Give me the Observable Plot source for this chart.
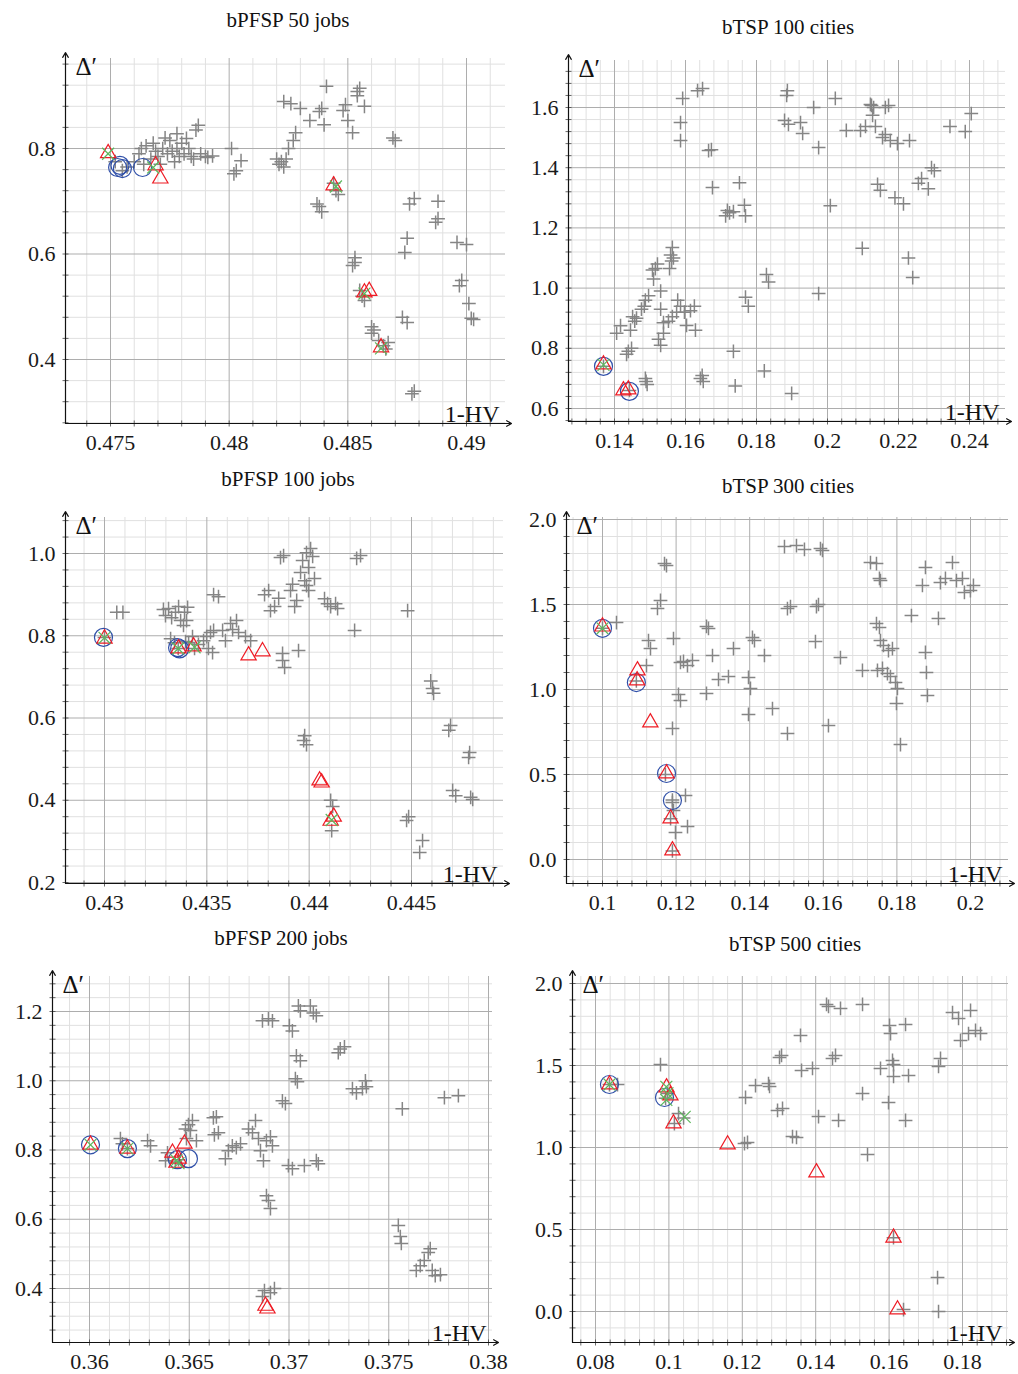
<!DOCTYPE html>
<html><head><meta charset="utf-8">
<script src="https://cdn.jsdelivr.net/npm/d3@7"></script>
<script src="https://cdn.jsdelivr.net/npm/@observablehq/plot@0.6"></script>
<style>
html,body{margin:0;padding:0;background:#fff;}
body{width:1018px;height:1374px;position:relative;overflow:hidden;font-family:"Liberation Serif",serif;}
.panel{position:absolute;}
.panel svg, .panel svg text{font-family:"Liberation Serif",serif !important;}
.title{position:absolute;font-size:21px;color:#111;transform:translate(-50%,-50%);white-space:nowrap;}
</style></head><body>
<script>
// ---------------- Titles ----------------
const titles = ["bPFSP 50 jobs","bTSP 100 cities","bPFSP 100 jobs","bTSP 300 cities","bPFSP 200 jobs","bTSP 500 cities"];

// ---------------- Tick labels ----------------
const p1XTicks = [0.475,0.48,0.485,0.49];
const p1YTicks = [0.4,0.6,0.8];
const p2XTicks = [0.14,0.16,0.18,0.2,0.22,0.24];
const p2YTicks = [0.6,0.8,1.0,1.2,1.4,1.6];
const p3XTicks = [0.43,0.435,0.44,0.445];
const p3YTicks = [0.2,0.4,0.6,0.8,1.0];
const p4XTicks = [0.1,0.12,0.14,0.16,0.18,0.2];
const p4YTicks = [0.0,0.5,1.0,1.5,2.0];
const p5XTicks = [0.36,0.365,0.37,0.375,0.38];
const p5YTicks = [0.4,0.6,0.8,1.0,1.2];
const p6XTicks = [0.08,0.1,0.12,0.14,0.16,0.18];
const p6YTicks = [0.0,0.5,1.0,1.5,2.0];

// ---------------- bPFSP 50 jobs ----------------
const p1Gray = [[0.4752,0.775],[0.4755,0.758],[0.4757,0.765],[0.4760,0.775],[0.4762,0.79],[0.4763,0.80],[0.4765,0.805],[0.4764,0.77],[0.4767,0.78],[0.4768,0.81],[0.4769,0.795],[0.4770,0.785],[0.4771,0.77],[0.4772,0.80],[0.4773,0.82],[0.4774,0.79],[0.4775,0.815],[0.4776,0.795],[0.4777,0.775],[0.4778,0.828],[0.4778,0.80],[0.4779,0.785],[0.4780,0.81],[0.4781,0.79],[0.4782,0.819],[0.4783,0.80],[0.4784,0.785],[0.4785,0.78],[0.4786,0.835],[0.4787,0.844],[0.4788,0.79],[0.4790,0.785],[0.4791,0.783],[0.4793,0.786],
[0.4801,0.80],[0.4805,0.777],[0.4803,0.758],[0.4802,0.752],
[0.4820,0.78],[0.4821,0.77],[0.4822,0.775],[0.4823,0.765],[0.4824,0.78],
[0.4823,0.889],[0.4826,0.885],[0.4830,0.876],[0.4834,0.853],[0.4827,0.815],[0.4825,0.80],[0.4828,0.83],
[0.4841,0.918],[0.4839,0.876],[0.4838,0.87],[0.4840,0.845],[0.4848,0.872],[0.4849,0.883],[0.4850,0.853],[0.4852,0.83],[0.4854,0.90],[0.4855,0.914],[0.4854,0.908],[0.4857,0.88],[0.4869,0.82],[0.4870,0.815],
[0.4837,0.695],[0.4838,0.69],[0.4839,0.68],
[0.4844,0.734],[0.4845,0.72],[0.4846,0.713],
[0.4853,0.593],[0.4853,0.584],[0.4852,0.578],
[0.4855,0.531],[0.4856,0.52],[0.4857,0.512],
[0.4860,0.462],[0.4860,0.45],[0.4861,0.456],
[0.4863,0.436],[0.4865,0.426],[0.4866,0.42],[0.4867,0.432],
[0.4873,0.48],[0.4875,0.47],[0.4876,0.695],[0.4878,0.705],[0.4875,0.63],[0.4874,0.603],
[0.4877,0.335],[0.4878,0.34],
[0.4888,0.70],[0.4888,0.667],[0.4887,0.66],
[0.4896,0.622],[0.4900,0.618],[0.4898,0.55],[0.4897,0.54],[0.4901,0.506],[0.4902,0.478],[0.4903,0.476]];
const p1Red = [[0.4749,0.791],[0.4769,0.768],[0.4771,0.743],[0.4844,0.73],[0.4857,0.527],[0.4859,0.53],[0.4864,0.423]];
const p1Blue = [[0.4753,0.764],[0.4755,0.762],[0.4754,0.768],[0.47635,0.764]];
const p1Green = [[0.4749,0.79],[0.4768,0.764],[0.4845,0.728],[0.4857,0.525],[0.4864,0.421]];

// ---------------- bTSP 100 cities ----------------
const p2Gray = [[0.1489,0.69],[0.1492,0.68],[0.1487,0.70],
[0.1448,0.80],[0.1439,0.79],[0.1434,0.78],
[0.1445,0.86],[0.1462,0.90],[0.1457,0.89],[0.1451,0.905],[0.1406,0.85],[0.1417,0.875],
[0.1487,0.96],[0.1496,0.975],[0.1476,0.93],[0.1484,0.94],
[0.1530,0.99],[0.1510,1.03],[0.1515,1.065],[0.1521,1.08],[0.1507,1.06],
[0.1558,1.11],[0.1563,1.135],[0.1561,1.09],[0.1555,1.065],[0.1566,1.10],
[0.1530,0.93],[0.1538,0.885],[0.1552,0.89],[0.1563,0.905],[0.1575,0.92],[0.1586,0.94],[0.1597,0.92],[0.1614,0.925],[0.1625,0.94],[0.1603,0.876],[0.1628,0.86],[0.1578,0.96],
[0.1524,0.83],[0.1538,0.85],[0.1530,0.81],
[0.1586,1.49],[0.1586,1.55],[0.1592,1.63],[0.1634,1.656],[0.1648,1.663],
[0.1665,1.457],[0.1673,1.46],[0.1676,1.334],
[0.1713,1.24],[0.1718,1.258],[0.1724,1.25],[0.1735,1.254],
[0.1752,1.35],[0.1766,1.275],[0.1769,1.24],
[0.1769,0.97],[0.1777,0.94],
[0.1735,0.79],[0.1740,0.675],
[0.1828,1.045],[0.1834,1.02],[0.1822,0.725],
[0.1642,0.70],[0.1650,0.69],[0.1647,0.71],
[0.1885,1.64],[0.1887,1.656],[0.1879,1.557],[0.1890,1.544],
[0.1899,0.65],[0.1924,1.55],[0.1930,1.514],[0.1961,1.60],[0.1975,1.467],[0.1975,0.982],
[0.2022,1.63],[0.2008,1.274],[0.2053,1.524],[0.2093,1.524],[0.2107,1.537],[0.2098,1.132],
[0.2124,1.607],[0.2127,1.574],[0.2135,1.537],[0.2121,1.61],[0.2130,1.60],
[0.2149,1.325],[0.2141,1.345],
[0.2155,1.50],[0.2163,1.51],[0.2172,1.607],[0.2163,1.60],
[0.2190,1.30],[0.2177,1.49],[0.2197,1.48],[0.2214,1.28],
[0.2231,1.49],[0.2228,1.10],[0.2240,1.035],
[0.2256,1.348],[0.2265,1.364],[0.2284,1.33],[0.2293,1.40],[0.2301,1.39],
[0.2345,1.537],[0.2388,1.52],[0.2405,1.58],
[0.1369,0.74],[0.1442,0.66]];
const p2Red = [[0.1369,0.746],[0.1425,0.66],[0.1439,0.663]];
const p2Blue = [[0.1369,0.74],[0.1442,0.657]];
const p2Green = [[0.1369,0.745]];

// ---------------- bPFSP 100 jobs ----------------
const p3Gray = [[0.4306,0.857],[0.4309,0.857],
[0.43288,0.864],[0.43298,0.849],[0.43313,0.866],[0.43328,0.844],[0.43347,0.857],[0.43362,0.871],[0.43372,0.837],[0.43391,0.857],[0.43406,0.869],[0.43386,0.825],[0.43401,0.837],
[0.43323,0.793],[0.43342,0.783],[0.43396,0.786],[0.43411,0.783],[0.4343,0.798],[0.43459,0.779],[0.43484,0.788],[0.43499,0.798],[0.43518,0.808],[0.43533,0.813],[0.43528,0.759],[0.43508,0.769],
[0.43533,0.90],[0.43557,0.895],[0.43577,0.813],[0.43591,0.788],[0.43616,0.83],[0.43626,0.815],[0.43645,0.837],[0.43655,0.808],[0.43689,0.798],[0.43714,0.788],
[0.43782,0.90],[0.43802,0.91],[0.43811,0.861],[0.43831,0.871],[0.43851,0.891],
[0.4387,0.74],[0.4388,0.723],[0.4387,0.757],
[0.43909,0.91],[0.43919,0.925],[0.43939,0.886],[0.43929,0.871],[0.43948,0.764],
[0.43958,0.954],[0.43978,0.934],[0.43968,0.983],[0.43987,1.002],[0.44007,1.012],[0.44017,0.993],[0.43997,0.966],[0.43987,0.922],[0.43997,0.91],[0.44026,0.939],
[0.4386,0.99],[0.43875,0.995],
[0.44075,0.89],[0.4409,0.878],[0.44105,0.871],[0.44129,0.878],[0.44139,0.866],
[0.44232,0.988],[0.44251,0.995],[0.44222,0.813],
[0.43978,0.557],[0.43973,0.545],[0.43987,0.535],
[0.44105,0.40],[0.44115,0.385],[0.4411,0.326],
[0.44481,0.861],[0.44594,0.69],[0.44603,0.672],[0.44608,0.66],
[0.44691,0.582],[0.44682,0.57],[0.44784,0.516],[0.44779,0.504],
[0.44701,0.424],[0.44716,0.411],[0.44789,0.407],[0.44799,0.402],
[0.44486,0.36],[0.44476,0.351],[0.44554,0.302],[0.4454,0.273],
[0.43,0.796],[0.4336,0.769],[0.4344,0.769]];
const p3Red = [[0.43,0.793],[0.43362,0.769],[0.43435,0.774],[0.43704,0.752],[0.43772,0.762],[0.44051,0.448],[0.44061,0.443],[0.44105,0.35],[0.4412,0.36]];
const p3Blue = [[0.42995,0.796],[0.43357,0.771],[0.43367,0.768]];
const p3Green = [[0.43,0.795],[0.4336,0.769],[0.4344,0.772],[0.4411,0.352]];

// ---------------- bTSP 300 cities ----------------
const p4Gray = [[0.1038,1.394],[0.12255,0.377],[0.1231,0.194],[0.11983,0.159],[0.11929,0.288],[0.11902,0.771],
[0.11576,1.524],[0.11494,1.477],[0.11685,1.741],[0.11739,1.729],[0.11304,1.241],[0.1125,1.288],[0.11195,1.141],
[0.12065,0.971],[0.12119,0.935],[0.12119,1.159],[0.12201,1.165],[0.12445,1.171],[0.12309,1.141],[0.11929,1.30],
[0.12826,1.371],[0.1288,1.359],[0.12989,1.20],[0.12826,0.977],[0.13152,1.059],[0.13423,1.076],[0.13559,1.241],
[0.14075,1.306],[0.1413,1.288],[0.14021,1.006],[0.13967,1.071],[0.13967,0.853],[0.14401,1.20],[0.14619,0.888],[0.15026,0.741],
[0.14945,1.841],[0.15271,1.847],[0.15488,1.824],[0.15026,1.476],[0.15108,1.488],[0.15923,1.829],[0.15977,1.818],
[0.15814,1.488],[0.15869,1.50],[0.15787,1.282],[0.1614,0.788],[0.16466,1.188],[0.17064,1.112],
[0.17282,1.747],[0.17445,1.741],[0.17526,1.653],[0.17553,1.641],[0.17445,1.388],[0.17526,1.365],
[0.17553,1.288],[0.17635,1.259],[0.17771,1.229],[0.17879,1.241],[0.17472,1.112],[0.17608,1.124],[0.17743,1.094],[0.17825,1.076],
[0.17988,0.918],[0.17961,1.041],[0.18015,1.006],[0.18097,0.676],
[0.18694,1.612],[0.18776,1.718],[0.18776,1.218],[0.18803,1.10],[0.1883,0.965],[0.19129,1.418],
[0.19183,1.629],[0.19319,1.653],[0.1951,1.747],[0.19618,1.641],[0.19781,1.653],[0.19835,1.571],[0.19998,1.582],[0.2008,1.612],[0.18395,1.435],
[0.1,1.36],[0.1092,1.05],[0.119,0.35],[0.119,0.335],[0.1185,0.24],[0.119,0.05],[0.1171,0.5]];
const p4Red = [[0.1,1.37],[0.1095,1.112],[0.1094,1.053],[0.113,0.806],[0.1174,0.506],[0.1185,0.241],[0.119,0.053]];
const p4Blue = [[0.1,1.36],[0.1092,1.041],[0.1174,0.506],[0.119,0.347]];
const p4Green = [[0.1,1.36]];

// ---------------- bPFSP 200 jobs ----------------
const p5Gray = [[0.36155,0.833],[0.36165,0.818],[0.36291,0.827],[0.36306,0.812],[0.36391,0.792],[0.36381,0.769],
[0.36481,0.861],[0.36496,0.873],[0.36506,0.856],[0.36516,0.885],[0.36486,0.833],[0.36536,0.827],
[0.36621,0.893],[0.36636,0.896],[0.36626,0.844],[0.36646,0.85],
[0.36681,0.775],[0.36696,0.798],[0.36716,0.812],[0.36736,0.807],[0.36757,0.818],
[0.36797,0.861],[0.36817,0.85],[0.36832,0.885],[0.36847,0.833],[0.36857,0.798],[0.36872,0.769],[0.36887,0.827],[0.36907,0.838],[0.36917,0.812],
[0.36867,1.173],[0.36897,1.179],[0.36917,1.173],
[0.36887,0.668],[0.36907,0.631],[0.36897,0.654],
[0.36877,0.394],[0.36907,0.388],[0.36927,0.40],[0.36867,0.377],
[0.36967,0.942],[0.36982,0.934],[0.37002,1.159],[0.37017,1.144],[0.37037,1.072],[0.37057,1.058],[0.37032,1.006],[0.37042,0.997],
[0.36997,0.755],[0.37017,0.746],[0.37077,0.755],[0.37137,0.769],[0.37147,0.76],
[0.37047,1.216],[0.37057,1.202],[0.37107,1.216],[0.37122,1.196],[0.37137,1.188],
[0.37247,1.081],[0.37257,1.092],[0.37278,1.098],
[0.37318,0.977],[0.37338,0.965],[0.37368,0.977],[0.37383,1.0],[0.37388,0.983],
[0.37568,0.919],[0.37548,0.582],[0.37558,0.55],[0.37563,0.53],
[0.37638,0.452],[0.37658,0.466],[0.37678,0.481],[0.37698,0.504],[0.37708,0.515],[0.37718,0.452],[0.37733,0.437],[0.37759,0.44],
[0.37779,0.951],[0.37849,0.957],
[0.3619,0.804],[0.36446,0.772],[0.3643,0.765]];
const p5Red = [[0.36005,0.815],[0.3619,0.804],[0.36416,0.792],[0.36446,0.775],[0.36476,0.818],[0.36436,0.763],[0.36882,0.35],[0.36892,0.342]];
const p5Blue = [[0.36005,0.815],[0.3619,0.804],[0.36441,0.772],[0.36496,0.775]];
const p5Green = [[0.36005,0.815],[0.3619,0.804],[0.36446,0.762],[0.36436,0.77]];

// ---------------- bTSP 500 cities ----------------
const p6Gray = [[0.09771,1.506],[0.10262,1.207],[0.086,1.384],[0.12088,1.305],[0.1206,1.024],[0.12142,1.031],
[0.1236,1.378],[0.12714,1.39],[0.12742,1.372],[0.1296,1.226],[0.13096,1.238],[0.13014,1.549],[0.13069,1.561],
[0.13368,1.067],[0.13477,1.061],[0.13586,1.683],[0.13614,1.47],[0.13913,1.482],[0.14077,1.189],
[0.14295,1.872],[0.14349,1.86],[0.14458,1.543],[0.1454,1.561],[0.14622,1.165],[0.14676,1.848],
[0.15276,1.872],[0.15276,1.329],[0.15412,0.957],[0.15766,1.482],
[0.16012,1.744],[0.16039,1.695],[0.16093,1.531],[0.16121,1.506],[0.15984,1.274],[0.16121,1.433],
[0.16448,1.75],[0.16448,1.165],[0.16529,1.439],[0.17401,1.543],[0.17347,1.494],
[0.1732,0.207],[0.17347,0.0],[0.16393,0.012],
[0.17728,1.823],[0.17892,1.787],[0.17946,1.653],[0.18219,1.836],[0.18164,1.695],[0.18355,1.714],[0.18491,1.695],
[0.0991,1.30],[0.0996,1.33],[0.0838,1.384],[0.104,1.18],[0.1015,1.146],[0.1612,0.45]];
const p6Red = [[0.0838,1.384],[0.09935,1.366],[0.1004,1.317],[0.10126,1.146],[0.116,1.018],[0.1402,0.848],[0.1612,0.45],[0.1623,0.012]];
const p6Blue = [[0.0838,1.384],[0.0988,1.305]];
const p6Green = [[0.0838,1.384],[0.0993,1.37],[0.0996,1.33],[0.0993,1.29],[0.1043,1.187]];

// ---------------- Layout (pixel frame + calibration) ----------------
const panels = [
  {title:titles[0], tc:[288,20], gray:p1Gray, red:p1Red, blue:p1Blue, green:p1Green, xTicks:p1XTicks, yTicks:p1YTicks, xMinor:0.001, yMinor:0.04, fx:[65,505], fy:[58,423], xcal:[110,0.475,466,0.49], ycal:[148,0.8,359,0.4]},
  {title:titles[1], tc:[788,27], gray:p2Gray, red:p2Red, blue:p2Blue, green:p2Green, xTicks:p2XTicks, yTicks:p2YTicks, xMinor:0.004, yMinor:0.04, fx:[568,1005], fy:[60,421], xcal:[614,0.14,969,0.24], ycal:[107,1.6,408,0.6]},
  {title:titles[2], tc:[288,479], gray:p3Gray, red:p3Red, blue:p3Blue, green:p3Green, xTicks:p3XTicks, yTicks:p3YTicks, xMinor:0.001, yMinor:0.04, fx:[65,503], fy:[517,883], xcal:[104,0.43,411,0.445], ycal:[553,1.0,882,0.2]},
  {title:titles[3], tc:[788,486], gray:p4Gray, red:p4Red, blue:p4Blue, green:p4Green, xTicks:p4XTicks, yTicks:p4YTicks, xMinor:0.004, yMinor:0.1, fx:[566,1008], fy:[517,883], xcal:[602,0.1,970,0.2], ycal:[519,2.0,859,0.0]},
  {title:titles[4], tc:[281,938], gray:p5Gray, red:p5Red, blue:p5Blue, green:p5Green, xTicks:p5XTicks, yTicks:p5YTicks, xMinor:0.001, yMinor:0.04, fx:[52,492], fy:[976,1342], xcal:[89,0.36,488,0.38], ycal:[1011,1.2,1288,0.4]},
  {title:titles[5], tc:[795,944], gray:p6Gray, red:p6Red, blue:p6Blue, green:p6Green, xTicks:p6XTicks, yTicks:p6YTicks, xMinor:0.004, yMinor:0.1, fx:[572,1008], fy:[976,1342], xcal:[595,0.08,962,0.18], ycal:[983,2.0,1311,0.0]}
];

const mL = 52, mR = 10, mT = 10, mB = 32;
const lin = (p0, v0, p1, v1) => p => v0 + (p - p0) * (v1 - v0) / (p1 - p0);
const vTick = {draw(ctx){ ctx.moveTo(0,-3); ctx.lineTo(0,3); }};
const hTick = {draw(ctx){ ctx.moveTo(-3,0); ctx.lineTo(3,0); }};
function minorTicks(dom, step, majors){
  const lo = Math.min(...dom), hi = Math.max(...dom);
  const k0 = Math.ceil(lo/step - 1e-6), k1 = Math.floor(hi/step + 1e-6);
  return d3.range(k0, k1+1).map(k => +(k*step).toFixed(6)).filter(v => !majors.some(m => Math.abs(m - v) < 1e-9));
}
const fmtX = d => String(+d.toFixed(4));
const fmtY = d3.format(".1f");

panels.forEach(c => {
  const fxv = lin(...c.xcal), fyv = lin(...c.ycal);
  const xd = [fxv(c.fx[0]), fxv(c.fx[1])];
  const yd = [fyv(c.fy[1]), fyv(c.fy[0])];
  const xArrow = fxv(c.fx[1] + 6), yArrow = fyv(c.fy[0] - 6);
  const W = c.fx[1] - c.fx[0] + mL + mR, H = c.fy[1] - c.fy[0] + mT + mB;
  const minX = minorTicks(xd, c.xMinor, c.xTicks), minY = minorTicks(yd, c.yMinor, c.yTicks);
  const allX = minX.concat(c.xTicks), allY = minY.concat(c.yTicks);
  const P = d => d[0], Q = d => d[1];
  const svg = Plot.plot({
    width: W, height: H, marginLeft: mL, marginRight: mR, marginTop: mT, marginBottom: mB,
    style: {fontFamily: '"Liberation Serif", serif', fontSize: "22px", color: "#1a1a1a", background: "none", overflow: "visible"},
    x: {domain: xd, ticks: c.xTicks, tickFormat: fmtX, tickSize: 0, tickPadding: 11, label: null},
    y: {domain: yd, ticks: c.yTicks, tickFormat: fmtY, tickSize: 0, tickPadding: 10, label: null},
    marks: [
      Plot.ruleX(minX, {y1: yd[0], y2: yd[1], stroke: "#e0e0e0", strokeWidth: 1}),
      Plot.ruleY(minY, {x1: xd[0], x2: xd[1], stroke: "#e0e0e0", strokeWidth: 1}),
      Plot.ruleX(c.xTicks, {y1: yd[0], y2: yd[1], stroke: "#adadad", strokeWidth: 1}),
      Plot.ruleY(c.yTicks, {x1: xd[0], x2: xd[1], stroke: "#adadad", strokeWidth: 1}),
      Plot.dot(allX, {x: d => d, y: yd[0], symbol: vTick, fill: "none", stroke: "#444", strokeWidth: 0.8}),
      Plot.dot(allY, {x: xd[0], y: d => d, symbol: hTick, fill: "none", stroke: "#444", strokeWidth: 0.8}),
      Plot.arrow([0], {x1: xd[0], y1: yd[0], x2: xArrow, y2: yd[0], stroke: "#111", strokeWidth: 1.2, headLength: 7}),
      Plot.arrow([0], {x1: xd[0], y1: yd[0], x2: xd[0], y2: yArrow, stroke: "#111", strokeWidth: 1.2, headLength: 7}),
      Plot.dot(c.gray, {x: P, y: Q, symbol: "plus", r: 4.5, fill: "none", stroke: "#858585", strokeWidth: 1.5}),
      Plot.dot(c.blue, {x: P, y: Q, symbol: "circle", r: 9, fill: "none", stroke: "#2f4fa8", strokeWidth: 1.2}),
      Plot.dot(c.red, {x: P, y: Q, symbol: "triangle2", r: 7.3, fill: "none", stroke: "#ee1c25", strokeWidth: 1.2}),
      Plot.dot(c.green, {x: P, y: Q, symbol: "times", r: 5.5, fill: "none", stroke: "#5cb85c", strokeWidth: 1.2}),
      Plot.text(["Δ′"], {text: d => d, frameAnchor: "top-left", dx: 10, dy: -1, textAnchor: "start", lineAnchor: "top", fontSize: 25, fill: "#111"}),
      Plot.text(["1-HV"], {text: d => d, frameAnchor: "bottom-right", dx: -6, dy: -2, textAnchor: "end", lineAnchor: "bottom", fontSize: 24, fill: "#111"})
    ]
  });
  const div = document.createElement("div");
  div.className = "panel";
  div.style.left = (c.fx[0] - mL) + "px";
  div.style.top = (c.fy[0] - mT) + "px";
  div.appendChild(svg);
  document.body.appendChild(div);
  const t = document.createElement("div");
  t.className = "title";
  t.style.left = c.tc[0] + "px";
  t.style.top = c.tc[1] + "px";
  t.textContent = c.title;
  document.body.appendChild(t);
});
</script>
</body></html>
